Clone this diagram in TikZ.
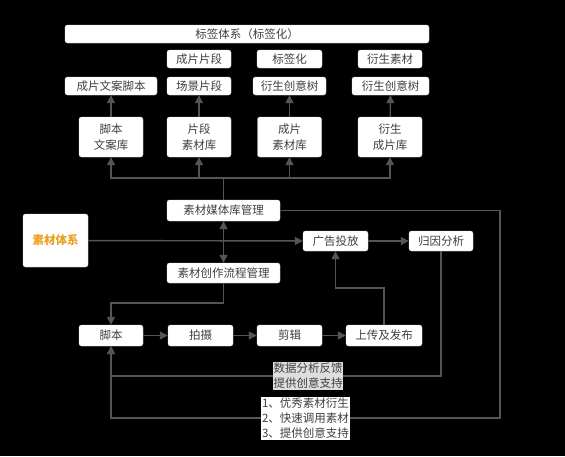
\documentclass[tikz,border=0pt]{standalone}
\usepackage{fontspec}
\setmainfont{Noto Sans CJK SC}
\usetikzlibrary{arrows.meta}
\definecolor{boxtext}{RGB}{64,64,64}
\definecolor{linegray}{RGB}{85,85,85}
\definecolor{orangetext}{RGB}{236,160,30}
\definecolor{notegray}{RGB}{222,222,222}

\begin{document}
\begin{tikzpicture}[x=1pt,y=-1pt]
\tikzstyle{box}=[draw=white!85!black,fill=white,rounded corners=2.5pt,text=boxtext,font=\fontsize{11.5}{15.5}\selectfont,align=center,inner sep=0pt,minimum height=18pt];
\tikzstyle{lib}=[box,minimum width=64pt,minimum height=40pt];
\tikzstyle{note}=[text=boxtext,font=\fontsize{11.5}{15}\selectfont,align=left,inner sep=0.8pt];
\tikzstyle{wire}=[draw=linegray,line width=1.4pt];
\tikzstyle{dir}=[wire,-{Triangle[width=8pt,length=8pt]}];
\fill[black] (0,0) rectangle (565,456);
\useasboundingbox (0,0) rectangle (565,456);
% tags
\node [box,minimum width=364pt] (tagsys) at (247,34) {标签体系（标签化）};
\node [box,minimum width=64pt] (clip) at (199,59) {成片片段};
\node [box,minimum width=65pt] (tagged) at (289.5,59) {标签化};
\node [box,minimum width=64pt] (derivmat) at (390,59) {衍生素材};
\node [box,minimum width=92pt] (copy) at (111,86) {成片文案脚本};
\node [box,minimum width=64pt] (scene) at (199,86) {场景片段};
\node [box,minimum width=73pt] (tree1) at (289.5,86) {衍生创意树};
\node [box,minimum width=77pt] (tree2) at (390.5,86) {衍生创意树};
% libraries
\node [lib] (scriptlib) at (111,137) {脚本\\文案库};
\node [lib] (seglib) at (199,137) {片段\\素材库};
\node [lib] (filmlib) at (289.5,137) {成片\\素材库};
\node [lib] (derivlib) at (390,137) {衍生\\成片库};
\draw [dir] (scriptlib) -- (copy);
\draw [dir] (seglib) -- (scene);
\draw [dir] (filmlib) -- (tree1);
\draw [dir] (derivlib) -- (tree2);
% management
\node [box,minimum width=113pt,minimum height=21pt] (media) at (223.5,210.5) {素材媒体库管理};
\node [box,minimum width=113pt,minimum height=20pt] (flow) at (223.5,273) {素材创作流程管理};
\node [box,minimum width=65pt,minimum height=53pt,text=orangetext,font=\fontsize{11.5}{15.5}\selectfont\bfseries] (system) at (55.5,240.5) {素材体系};
\node [box,minimum width=65pt,minimum height=20pt] (ad) at (335.5,241) {广告投放};
\node [box,minimum width=64pt,minimum height=20pt] (attr) at (441,241) {归因分析};
\coordinate (bus) at (223.5,178);
\draw [wire] (media) -- (bus);
\draw [dir] (bus) -| (scriptlib);
\draw [dir] (bus) -| (seglib);
\draw [dir] (bus) -| (filmlib);
\draw [dir] (bus) -| (derivlib);
\draw [dir] (system) -- (ad);
\draw [dir] (ad) -- (attr);
\draw [wire,{Triangle[width=8pt,length=8pt]}-{Triangle[width=8pt,length=8pt]}] (media) -- (flow);
% production
\node [box,minimum width=64pt,minimum height=21pt] (script) at (111,335.5) {脚本};
\node [box,minimum width=65pt,minimum height=21pt] (shoot) at (200.5,335.5) {拍摄};
\node [box,minimum width=65pt,minimum height=21pt] (edit) at (289.5,335.5) {剪辑};
\node [box,minimum width=76pt,minimum height=21pt] (upload) at (384,335.5) {上传及发布};
\draw [dir] (script) -- (shoot);
\draw [dir] (shoot) -- (edit);
\draw [dir] (edit) -- (upload);
\coordinate (f1) at (223.5,303);
\draw [dir] (flow) -- (f1) -| (script);
\coordinate (u1) at (384,288);
\draw [dir] (upload) -- (u1) -| (ad);
% feedback loops
\coordinate (fb) at (441,376);
\draw [dir] (attr) -- (fb) -| (script);
\coordinate (m1) at (500,210.5);
\coordinate (m2) at (500,418);
\draw [dir] (media) -- (m1) -- (m2) -| (script);
\node [note,fill=notegray] (fbnote) at (308,376) {数据分析反馈\\提供创意支持};
\node [note,fill=white] (tips) at (305.5,418.5) {1、优秀素材衍生\\2、快速调用素材\\3、提供创意支持};
\end{tikzpicture}
\end{document}
